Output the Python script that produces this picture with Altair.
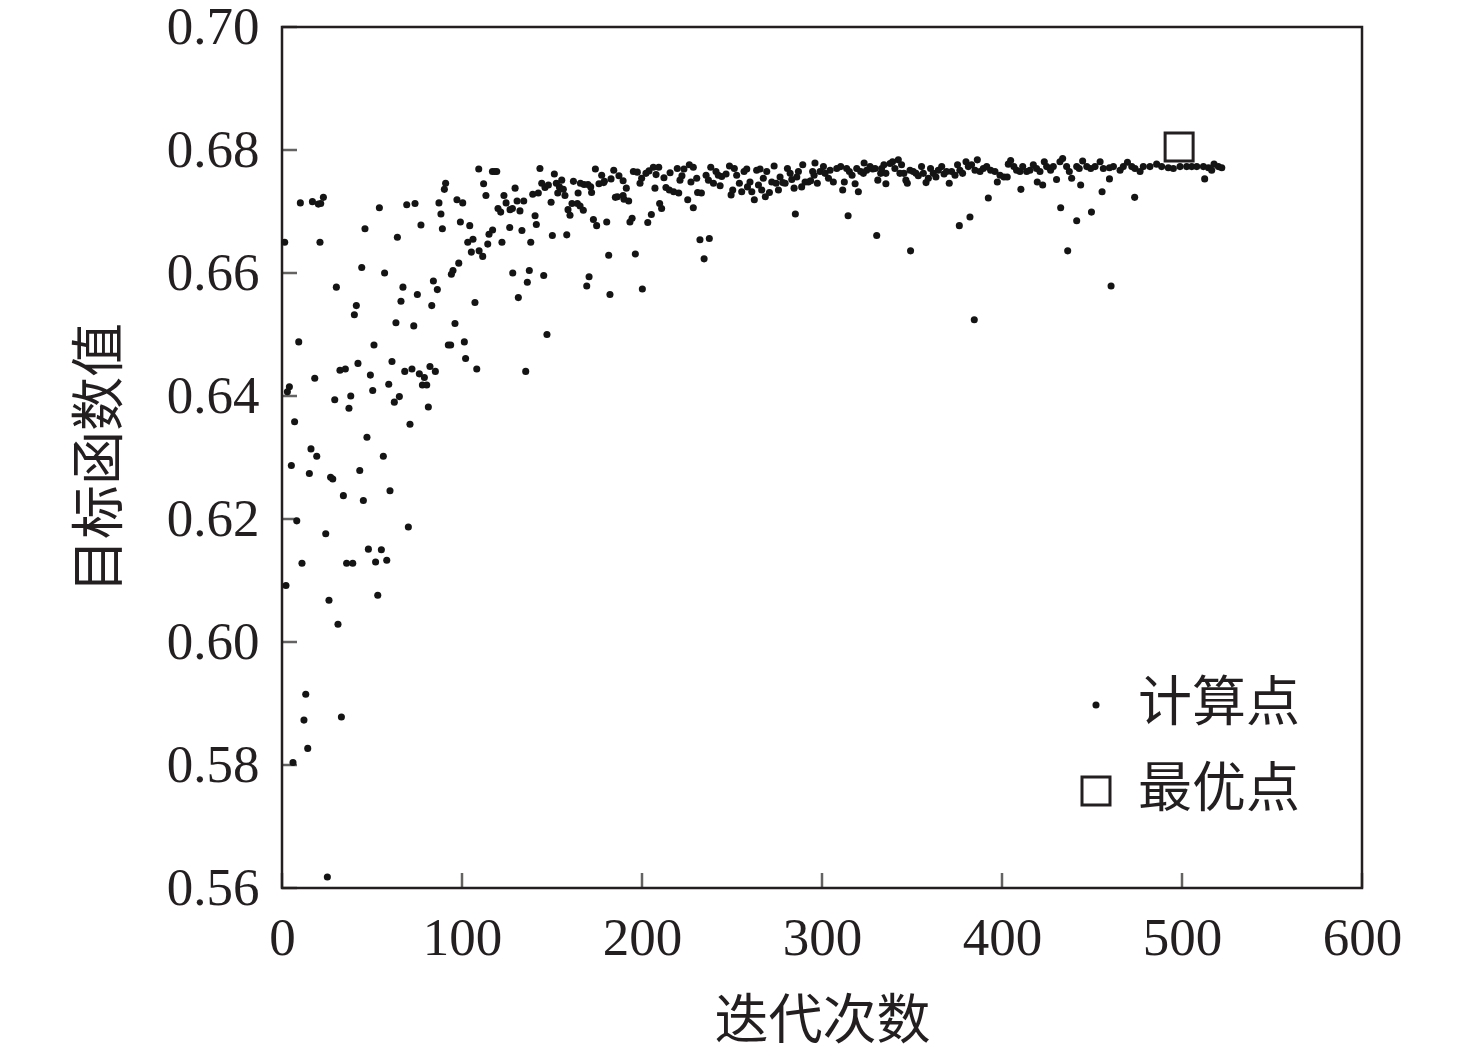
import altair as alt
import pandas as pd

# ---- data ----
calc_x = [
    90.9, 90.2, 10.2, 16.9, 20.2, 23.0, 21.5, 54.1, 69.3, 73.9, 87.2, 97.2, 100.4, 88.3, 46.1, 77.2,
    89.1, 99.1, 104.3, 1.5, 21.1, 64.1, 103.2, 106.1, 105.2, 109.5, 98.2, 95.0, 94.1, 44.3, 57.0, 30.2,
    67.2, 84.1, 86.3, 75.2, 66.1, 107.2, 41.3, 40.2, 83.2, 63.3, 73.2, 96.1, 9.3, 51.1, 92.4, 93.7,
    101.3, 102.0, 108.2, 42.2, 32.2, 35.2, 61.1, 68.2, 72.2, 82.2, 85.2, 18.2, 49.1, 76.3, 79.1, 78.0,
    80.4, 4.1, 3.0, 59.3, 50.4, 29.3, 38.2, 65.2, 62.4, 37.2, 81.3, 7.0, 71.1, 47.2, 16.1,
    19.3, 5.2, 56.3, 15.2, 27.0, 28.2, 43.2, 60.0, 34.1, 45.2, 8.2, 70.2, 24.3, 48.0, 55.2, 11.1,
    35.9, 39.3, 52.0, 58.2, 2.2, 53.2, 26.1, 31.1, 13.2, 12.2, 33.0, 14.3, 6.1, 25.2,
    109.3, 116.9, 118.2, 119.3, 143.3, 151.3, 174.1, 184.3, 177.6, 195.2, 197.4, 206.3, 209.3, 203.9,
    202.2, 215.6, 219.6, 226.3, 228.5, 223.3, 230.4, 222.2, 221.1, 227.2, 212.2, 207.8, 199.8, 198.9,
    187.2, 189.5, 182.8, 179.1, 176.1, 155.4, 161.9, 165.8, 167.8, 170.0, 171.5, 152.4, 154.1, 144.3,
    146.1, 148.0, 112.0, 113.3, 123.3, 129.5, 124.5, 130.6, 134.3, 139.3, 142.4, 149.5, 153.2, 156.3,
    157.2, 164.5, 172.0, 178.7, 186.3, 185.2, 189.5, 191.3, 190.0, 192.6, 207.2, 213.3, 215.2, 217.6,
    220.4, 230.9, 225.4, 228.5, 209.8, 210.9, 205.2, 203.2, 194.5, 193.3, 180.4, 173.0, 174.8, 161.1,
    164.1, 165.6, 167.4, 158.9, 160.0, 120.0, 121.5, 126.7, 128.0, 132.2, 140.6, 141.3, 126.5, 133.3,
    117.0, 115.0, 114.3, 111.5, 122.2, 138.2, 150.2, 158.2, 181.5, 196.3, 232.2, 128.2, 137.4, 136.3,
    145.4, 170.6, 169.3, 182.2, 200.2, 131.3, 147.2, 135.4,
    233.0, 235.6, 236.9, 238.2, 239.7, 241.1, 242.4, 243.4, 244.3, 246.7, 248.6, 249.5, 250.4, 251.3,
    252.6, 254.1, 255.4, 256.7, 258.2, 258.6, 260.0, 261.0, 262.4, 263.7, 265.6, 264.7, 266.5, 267.4,
    268.5, 269.3, 270.8, 272.1, 273.4, 274.5, 275.8, 276.7, 278.2, 279.5, 280.8, 282.3, 283.2, 284.5,
    286.0, 286.9, 289.3, 288.7, 290.6, 292.4, 293.7, 294.8, 296.1, 297.4, 295.6, 298.9, 300.8, 301.7,
    303.6, 304.5, 306.3, 308.2, 310.4, 311.5, 312.4, 313.7, 315.2, 316.7, 318.4, 320.2, 319.3, 321.5,
    323.4, 323.0, 324.8, 326.7, 328.2, 329.5, 331.0, 332.6, 285.2, 314.5, 330.4, 237.4, 234.5,
    333.1, 334.4, 335.5, 335.5, 337.8, 339.2, 340.5, 342.4, 343.3, 344.2, 345.5, 346.6, 347.4, 348.9,
    350.7, 352.2, 353.5, 355.3, 356.3, 357.8, 359.1, 360.3, 361.8, 363.3, 364.6, 366.5, 367.8, 369.2,
    370.7, 372.0, 373.9, 375.3, 376.6, 378.1, 380.0, 381.3, 383.1, 385.0, 386.3, 387.8, 389.6, 391.5,
    393.7, 396.1, 397.4, 398.9, 401.1, 402.9, 403.5, 404.8, 406.6, 408.1, 410.0, 411.5, 413.7, 415.5,
    417.4, 419.2, 419.6, 422.6, 421.1, 423.5, 424.8, 427.0, 428.5, 430.3, 432.2, 433.7, 435.9, 437.4,
    438.7, 441.5, 442.9, 349.2, 376.3, 382.2, 392.4, 410.5, 432.6, 441.5, 436.5, 384.6,
    444.8, 447.1, 449.3, 451.7, 454.5, 456.3, 459.7, 461.9, 465.6, 467.4, 469.7, 472.1, 473.9, 476.7,
    478.5, 482.2, 485.9, 488.7, 492.4, 495.2, 498.9, 502.6, 505.4, 508.2, 511.9, 514.7, 516.5, 517.8,
    520.2, 522.1, 443.7, 459.7, 455.6, 473.7, 449.7, 460.6, 512.6,
]
calc_y = [
    0.6746, 0.6736, 0.6714, 0.6716, 0.6712, 0.6723, 0.6713, 0.6706, 0.6711, 0.6713, 0.6714, 0.6719,
    0.6714, 0.6696, 0.6672, 0.6678, 0.6672, 0.6683, 0.6677, 0.6650, 0.6650, 0.6658, 0.6650, 0.6655,
    0.6634, 0.6636, 0.6616, 0.6604, 0.6598, 0.6609, 0.6600, 0.6577, 0.6577, 0.6587, 0.6573, 0.6565,
    0.6554, 0.6552, 0.6547, 0.6532, 0.6547, 0.6519, 0.6514, 0.6518, 0.6488, 0.6483, 0.6483, 0.6483,
    0.6488, 0.6461, 0.6444, 0.6453, 0.6442, 0.6444, 0.6456, 0.6440, 0.6444, 0.6448, 0.6440, 0.6429,
    0.6434, 0.6436, 0.6430, 0.6418, 0.6418, 0.6415, 0.6407, 0.6419, 0.6409, 0.6394, 0.6400, 0.6399,
    0.6390, 0.6380, 0.6382, 0.6358, 0.6354, 0.6333, 0.6314,
    0.6302, 0.6287, 0.6302, 0.6274, 0.6268, 0.6265, 0.6279, 0.6246, 0.6238, 0.6230, 0.6197, 0.6187,
    0.6176, 0.6151, 0.6150, 0.6128, 0.6128, 0.6128, 0.6130, 0.6133, 0.6092, 0.6076, 0.6068, 0.6029,
    0.5915, 0.5873, 0.5878, 0.5827, 0.5804, 0.5618,
    0.6769, 0.6765, 0.6765, 0.6765, 0.6770, 0.6761, 0.6769, 0.6767, 0.6759, 0.6765, 0.6764, 0.6772,
    0.6772, 0.6766, 0.6762, 0.6763, 0.6770, 0.6776, 0.6772, 0.6769, 0.6754, 0.6758, 0.6751, 0.6748,
    0.6755, 0.6760, 0.6754, 0.6746, 0.6758, 0.6750, 0.6753, 0.6749, 0.6745, 0.6751, 0.6749, 0.6746,
    0.6744, 0.6744, 0.6740, 0.6746, 0.6740, 0.6746, 0.6739, 0.6743, 0.6745, 0.6726, 0.6726, 0.6738,
    0.6714, 0.6717, 0.6717, 0.6728, 0.6730, 0.6715, 0.6730, 0.6736, 0.6726, 0.6730, 0.6731, 0.6747,
    0.6724, 0.6723, 0.6726, 0.6738, 0.6720, 0.6717, 0.6738, 0.6739, 0.6735, 0.6732, 0.6730, 0.6731,
    0.6719, 0.6706, 0.6713, 0.6705, 0.6695, 0.6682, 0.6689, 0.6683, 0.6683, 0.6687, 0.6677, 0.6713,
    0.6713, 0.6709, 0.6702, 0.6703, 0.6694, 0.6705, 0.6699, 0.6703, 0.6705, 0.6701, 0.6693, 0.6679,
    0.6674, 0.6669, 0.6670, 0.6663, 0.6647, 0.6627, 0.6650, 0.6650, 0.6661, 0.6662, 0.6629, 0.6631,
    0.6654, 0.6600, 0.6604, 0.6585, 0.6596, 0.6594, 0.6579, 0.6565, 0.6574, 0.6560, 0.6500, 0.6440,
    0.6730, 0.6759, 0.6751, 0.6772, 0.6746, 0.6765, 0.6759, 0.6742, 0.6757, 0.6761, 0.6774, 0.6727,
    0.6735, 0.6770, 0.6759, 0.6746, 0.6732, 0.6765, 0.6769, 0.6740, 0.6748, 0.6732, 0.6719, 0.6767,
    0.6769, 0.6743, 0.6735, 0.6754, 0.6724, 0.6765, 0.6731, 0.6748, 0.6774, 0.6746, 0.6735, 0.6756,
    0.6747, 0.6746, 0.6770, 0.6762, 0.6752, 0.6738, 0.6756, 0.6765, 0.6776, 0.6740, 0.6748, 0.6748,
    0.6750, 0.6765, 0.6779, 0.6746, 0.6759, 0.6765, 0.6773, 0.6762, 0.6754, 0.6767, 0.6748, 0.6770,
    0.6773, 0.6735, 0.6748, 0.6770, 0.6765, 0.6759, 0.6745, 0.6732, 0.6770, 0.6765, 0.6779, 0.6762,
    0.6767, 0.6773, 0.6769, 0.6770, 0.6751, 0.6762, 0.6696, 0.6693, 0.6661, 0.6656, 0.6623,
    0.6770, 0.6776, 0.6762, 0.6745, 0.6778, 0.6781, 0.6770, 0.6784, 0.6762, 0.6776, 0.6762, 0.6751,
    0.6746, 0.6767, 0.6765, 0.6762, 0.6758, 0.6773, 0.6762, 0.6747, 0.6754, 0.6770, 0.6762, 0.6756,
    0.6767, 0.6773, 0.6761, 0.6765, 0.6746, 0.6765, 0.6759, 0.6776, 0.6767, 0.6762, 0.6781, 0.6773,
    0.6776, 0.6767, 0.6784, 0.6765, 0.6770, 0.6773, 0.6767, 0.6765, 0.6748, 0.6759, 0.6756, 0.6756,
    0.6777, 0.6783, 0.6773, 0.6767, 0.6765, 0.6773, 0.6765, 0.6767, 0.6776, 0.6770, 0.6748, 0.6743,
    0.6765, 0.6781, 0.6773, 0.6767, 0.6773, 0.6752, 0.6781, 0.6786, 0.6773, 0.6765, 0.6754, 0.6773,
    0.6770, 0.6636, 0.6677, 0.6691, 0.6722, 0.6736, 0.6706, 0.6685, 0.6636, 0.6524,
    0.6782, 0.6773, 0.6770, 0.6773, 0.6781, 0.6770, 0.6771, 0.6773, 0.6767, 0.6773, 0.6780, 0.6773,
    0.6770, 0.6765, 0.6773, 0.6773, 0.6777, 0.6773, 0.6771, 0.6770, 0.6773, 0.6773, 0.6773, 0.6773,
    0.6773, 0.6771, 0.6767, 0.6777, 0.6773, 0.6771, 0.6743, 0.6753, 0.6732, 0.6723, 0.6699, 0.6579,
    0.6753,
]
best_x = [498.4]
best_y = [0.6805]

series_names = ["计算点", "最优点"]
x_ticks = [0, 100, 200, 300, 400, 500, 600]
y_ticks = [0.56, 0.58, 0.60, 0.62, 0.64, 0.66, 0.68, 0.70]
x_title = "迭代次数"
y_title = "目标函数值"

# ---- build tables ----
n = min(len(calc_x), len(calc_y))
pts = pd.DataFrame({
    "iter": calc_x[:n] + best_x,
    "val": calc_y[:n] + best_y,
    "kind": [series_names[0]] * n + [series_names[1]] * len(best_x),
})
xt = pd.DataFrame({"t": x_ticks})
yt = pd.DataFrame({"t": y_ticks})

INK = "#231f20"
FONT = "Liberation Serif, Noto Sans CJK SC"
W, H = 1080, 861

xscale = alt.Scale(domain=[0, 600], nice=False, zero=False)
yscale = alt.Scale(domain=[0.56, 0.70], nice=False, zero=False)
leg = alt.Legend(title=None)

points = alt.Chart(pts).mark_point(opacity=1).encode(
    x=alt.X("iter:Q", scale=xscale,
            axis=alt.Axis(values=x_ticks, title=x_title, ticks=False, tickSize=0, domain=False,
                          grid=False, labelPadding=24, titlePadding=30, format="d",
                          labelFlush=False)),
    y=alt.Y("val:Q", scale=yscale,
            axis=alt.Axis(values=y_ticks, title=y_title, ticks=False, tickSize=0, domain=False,
                          grid=False, labelPadding=23, titlePadding=38, format=".2f",
                          labelFlush=False)),
    shape=alt.Shape("kind:N", scale=alt.Scale(domain=series_names, range=["circle", "square"]),
                    legend=leg),
    size=alt.Size("kind:N", scale=alt.Scale(domain=series_names, range=[50, 784]), legend=leg),
    fill=alt.Fill("kind:N", scale=alt.Scale(domain=series_names, range=["#141414", "transparent"]),
                  legend=leg),
    stroke=alt.Stroke("kind:N", scale=alt.Scale(domain=series_names, range=[INK, INK]),
                      legend=leg),
    strokeWidth=alt.StrokeWidth("kind:N", scale=alt.Scale(domain=series_names, range=[0, 3]),
                                legend=leg),
)

yticks = alt.Chart(yt).mark_tick(orient="horizontal", size=15, thickness=2.5, color=INK).encode(
    y=alt.Y("t:Q", scale=yscale), x=alt.value(7.5)
)
xticks = alt.Chart(xt).mark_tick(orient="vertical", size=15, thickness=2.5, color=INK).encode(
    x=alt.X("t:Q", scale=xscale), y=alt.value(H - 7.5)
)

chart = alt.layer(yticks, xticks, points).properties(
    width=W, height=H,
    autosize=alt.AutoSizeParams(type="none"),
    padding={"left": 274, "top": 19, "right": 100, "bottom": 168},
).configure_view(
    stroke=INK, strokeWidth=2.5
).configure_axis(
    labelFont=FONT, titleFont=FONT, labelFontSize=53, titleFontSize=54,
    labelColor=INK, titleColor=INK, titleFontWeight="normal", labelFontWeight="normal",
).configure_legend(
    orient="none", legendX=787, legendY=651, padding=0,
    labelFont=FONT, labelFontSize=54, labelColor=INK, labelOffset=15, labelLimit=0,
    rowPadding=32,
)

chart.save("out.html", embed_options={"renderer": "svg", "actions": False})
